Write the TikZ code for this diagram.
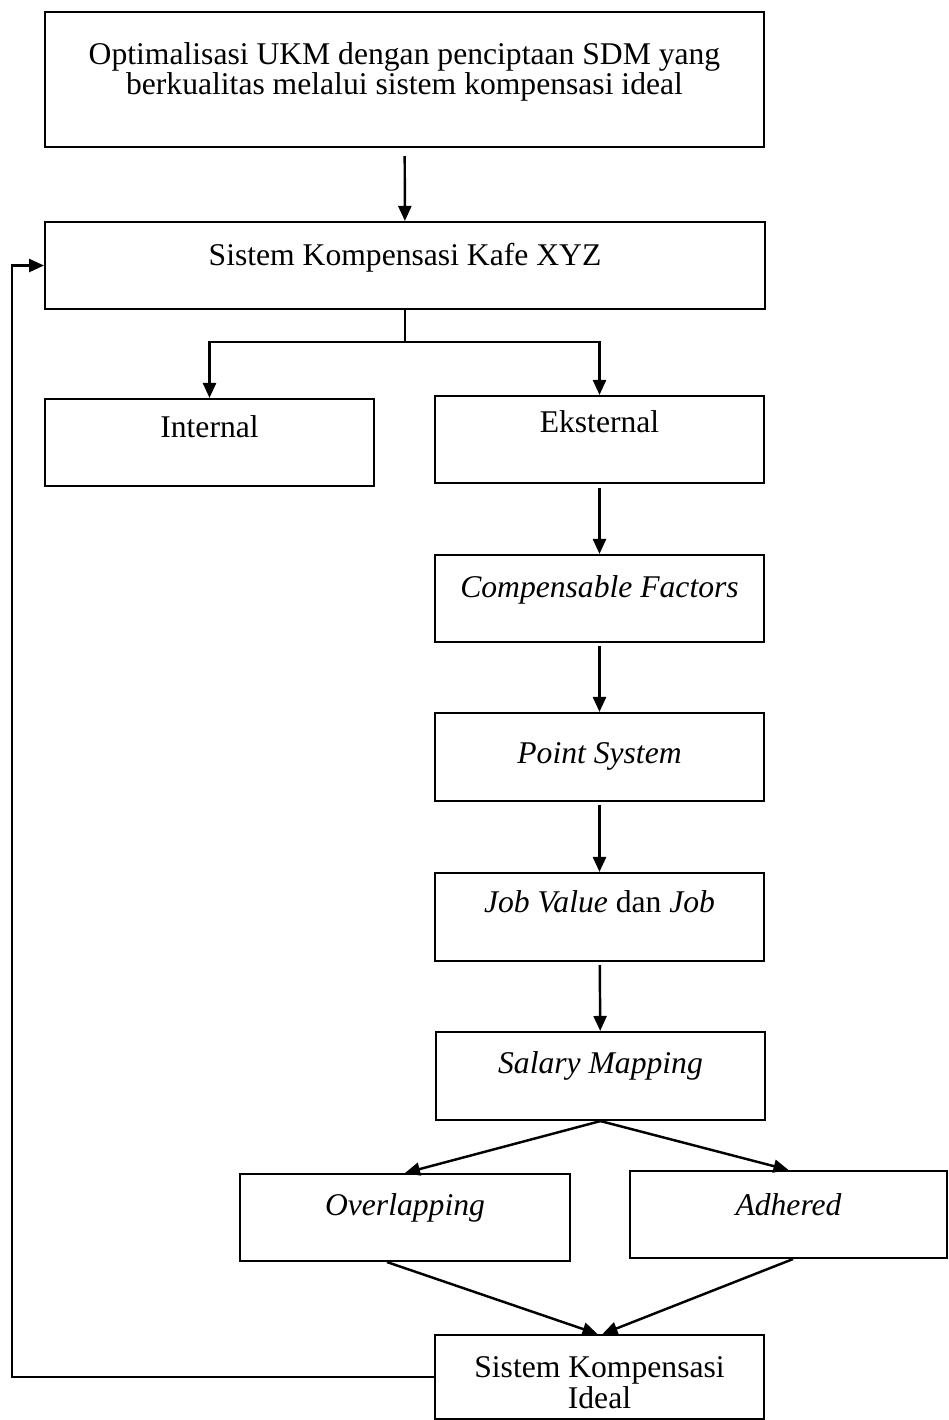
\documentclass[tikz,border=0pt]{standalone}
\usepackage{fontspec}
\setmainfont{Liberation Serif}
\usetikzlibrary{arrows.meta}

\begin{document}
\begin{tikzpicture}[
  x=0.02cm, y=-0.02cm,
  box/.style={rectangle, draw, line width=1.2pt, inner sep=0pt, align=center,
              minimum width=6.58cm, font=\fontsize{18}{15}\selectfont},
  wide/.style={box, minimum width=14.4cm},
  flow/.style={line width=1.4pt, -{Triangle[length=0.3cm, width=0.26cm]}},
  link/.style={line width=1.4pt},
]
\useasboundingbox (0,0) rectangle (949,1420);
% goal and main system
\node[wide, minimum width=14.38cm, text height=1.66cm, text depth=1.04cm] (goal) at (404.5,79.5)
  {Optimalisasi UKM dengan penciptaan SDM yang\\berkualitas melalui sistem kompensasi ideal};
\node[wide, text height=0.86cm, text depth=0.88cm] (sys) at (405,265.5) {Sistem Kompensasi Kafe XYZ};
% internal / external branch
\node[box, text height=0.76cm, text depth=0.98cm] (int) at (209.5,442.5) {Internal};
\node[box, text height=0.72cm, text depth=1.02cm] (eks) at (599.5,439.5) {Eksternal};
% external chain
\node[box, text height=0.84cm, text depth=0.90cm] (comp) at (599.5,598.5) {\itshape Compensable Factors};
\node[box, text height=1.00cm, text depth=0.76cm] (point) at (599.5,757) {\itshape Point System};
\node[box, text height=0.78cm, text depth=0.98cm] (job) at (599.5,917) {\textit{Job Value} dan \textit{Job}};
\node[box, text height=0.82cm, text depth=0.94cm] (sal) at (600.5,1076) {\itshape Salary Mapping};
% mapping outcomes
\node[box, minimum width=6.6cm, text height=0.82cm, text depth=0.92cm] (ovl) at (405,1217.5) {\itshape Overlapping};
\node[box, minimum width=6.34cm, text height=0.88cm, text depth=0.86cm] (adh) at (788.5,1214.5) {\itshape Adhered};
\node[box, text height=1.46cm, text depth=0.22cm] (ideal) at (599.5,1377) {Sistem Kompensasi\\Ideal};
% connectors
\coordinate (split) at (405,342);
\coordinate (back) at (12,1377);
\draw[flow, shorten <=0.16cm] (goal) -- (sys);
\draw[link] (sys.south) -- (split);
\draw[flow] (split) -| (int.north);
\draw[flow] (split) -| (eks.north);
\draw[flow, shorten <=0.08cm] (eks) -- (comp);
\draw[flow, shorten <=0.06cm] (comp) -- (point);
\draw[flow, shorten <=0.06cm] (point) -- (job);
\draw[flow, shorten <=0.06cm] (job) -- (sal);
\draw[flow] (sal.south) -- (ovl.north);
\draw[flow] (sal.south) -- (adh.north);
\draw[flow] ([xshift=-0.36cm]ovl.south) -- ([xshift=-0.04cm]ideal.north);
\draw[flow] ([xshift=0.09cm]adh.south) -- ([xshift=0.06cm]ideal.north);
% feedback loop
\draw[flow] (ideal.west) -- (back) |- (sys.west);
\end{tikzpicture}
\end{document}
